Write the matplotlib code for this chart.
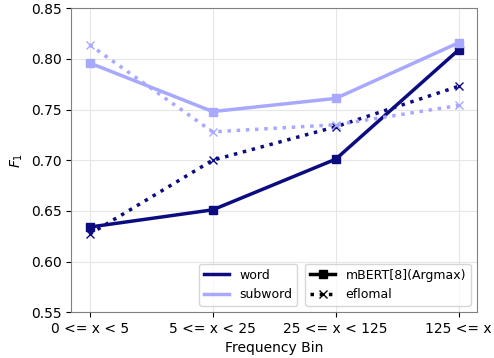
import matplotlib.pyplot as plt
from matplotlib.lines import Line2D

bins = ["0 <= x < 5", "5 <= x < 25", "25 <= x < 125", "125 <= x"]
word_mbert = [0.634, 0.651, 0.701, 0.809]
subword_mbert = [0.796, 0.748, 0.761, 0.816]
word_eflomal = [0.627, 0.700, 0.733, 0.773]
subword_eflomal = [0.814, 0.728, 0.735, 0.754]

c_word = "#0c0c80"
c_sub = "#a8a8ff"

fig = plt.figure(figsize=(4.94, 3.58), dpi=100)
ax = fig.add_axes([0.144, 0.128, 0.822, 0.849])
x = range(len(bins))

ax.plot(x, word_mbert, '-s', color=c_word, lw=2.5, ms=6)
ax.plot(x, subword_mbert, '-s', color=c_sub, lw=2.5, ms=6)
ax.plot(x, word_eflomal, ':x', color=c_word, lw=2.5, ms=6)
ax.plot(x, subword_eflomal, ':x', color=c_sub, lw=2.5, ms=6)

ax.set_ylim(0.55, 0.85)
ax.set_xticks(list(x))
ax.set_xticklabels(bins)
ax.set_xlabel("Frequency Bin")
ax.set_ylabel("$F_1$")
ax.grid(color="#e6e6e6")
for s in ax.spines.values():
    s.set_color("#808080")

h1 = [Line2D([], [], color=c_word, lw=2.5), Line2D([], [], color=c_sub, lw=2.5)]
leg1 = ax.legend(h1, ["word", "subword"], loc="lower right",
                 bbox_to_anchor=(0.572, 0.0), fontsize=9)
ax.add_artist(leg1)
h2 = [Line2D([], [], color="black", lw=2.5, marker="s", ms=6),
      Line2D([], [], color="black", lw=2.5, ls=":", marker="x", ms=6)]
ax.legend(h2, ["mBERT[8](Argmax)", "eflomal"], loc="lower right", fontsize=9)

fig.savefig("out.png")
